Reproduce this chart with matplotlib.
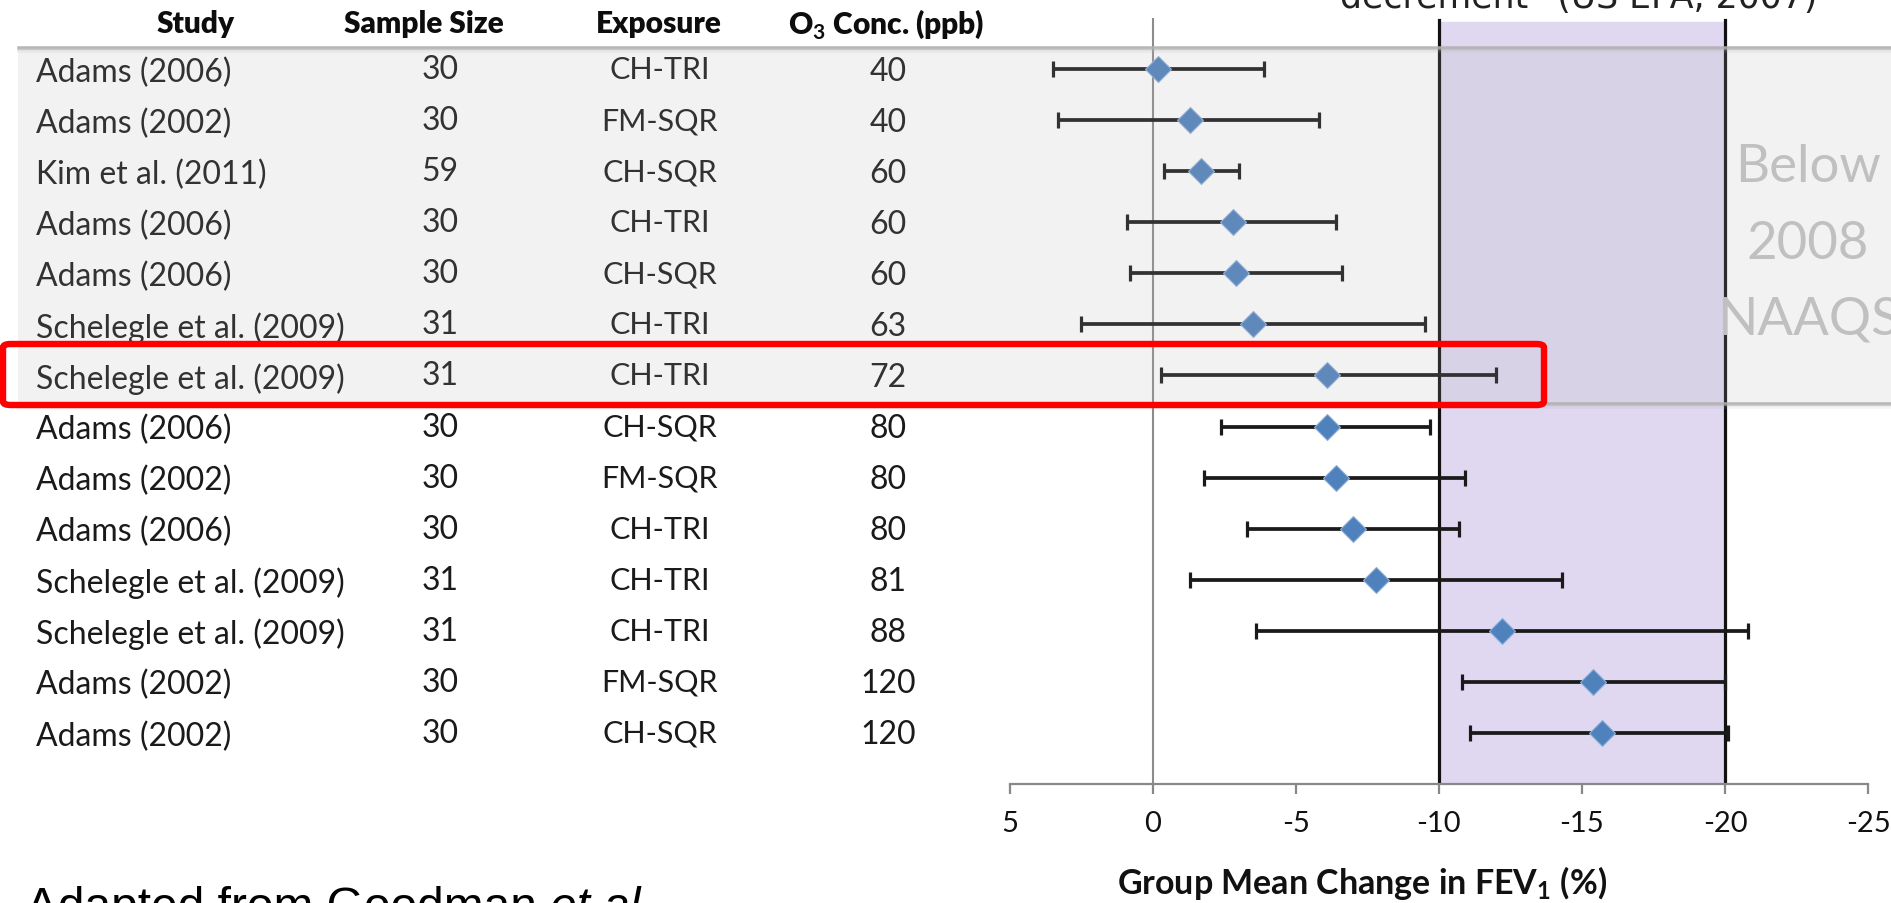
import numpy as np
import matplotlib
matplotlib.use("Agg")
import matplotlib.pyplot as plt
import matplotlib.transforms as mtransforms
from matplotlib.patches import Rectangle, FancyBboxPatch

# ---------------------------------------------------------------------------
# Data
# ---------------------------------------------------------------------------
studies = ["Adams (2006)", "Adams (2002)", "Kim et al. (2011)", "Adams (2006)",
           "Adams (2006)", "Schelegle et al. (2009)", "Schelegle et al. (2009)",
           "Adams (2006)", "Adams (2002)", "Adams (2006)", "Schelegle et al. (2009)",
           "Schelegle et al. (2009)", "Adams (2002)", "Adams (2002)"]
sample_size = [30, 30, 59, 30, 30, 31, 31, 30, 30, 30, 31, 31, 30, 30]
exposure = ["CH-TRI", "FM-SQR", "CH-SQR", "CH-TRI", "CH-SQR", "CH-TRI", "CH-TRI",
            "CH-SQR", "FM-SQR", "CH-TRI", "CH-TRI", "CH-TRI", "FM-SQR", "CH-SQR"]
o3_conc = [40, 40, 60, 60, 60, 63, 72, 80, 80, 80, 81, 88, 120, 120]

# group mean change in FEV1 (%) and the two ends of the bars
fev_mean = [-0.2, -1.3, -1.7, -2.8, -2.9, -3.5, -6.1, -6.1, -6.4, -7.0, -7.8, -12.2, -15.4, -15.7]
fev_high = [3.5, 3.3, -0.4, 0.9, 0.8, 2.5, -0.3, -2.4, -1.8, -3.3, -1.3, -3.6, -10.8, -11.1]
fev_low = [-3.9, -5.8, -3.0, -6.4, -6.6, -9.5, -12.0, -9.7, -10.9, -10.7, -14.3, -20.8, -20.0, -20.1]

x_ticks = [5, 0, -5, -10, -15, -20, -25]
band = (-10, -20)

# ---------------------------------------------------------------------------
# Layout helpers
# ---------------------------------------------------------------------------
W, H = 1891, 904
plt.rcParams["mathtext.fontset"] = "custom"
plt.rcParams["mathtext.rm"] = "Lato"
plt.rcParams["mathtext.bf"] = "Lato:bold"

def fx(px):
    return px / W

def fy(py):
    return 1 - py / H

fig = plt.figure(figsize=(W / 100, H / 100), dpi=100)
fig.patch.set_facecolor("white")

ax_l, ax_r, ax_t, ax_b = 1009.7, 1868, 19, 785
ax = fig.add_axes([fx(ax_l), fy(ax_b), fx(ax_r - ax_l), (ax_b - ax_t) / H])
ax.set_facecolor("none")

rows = np.arange(1, len(studies) + 1)
ax.set_xlim(5, -25)
ax.set_ylim(15, 0)

# reference band + lines
ax.axvspan(band[1], band[0], ymin=0, ymax=1 - 4 / (ax_b - ax_t), color="#E0D8F0", zorder=0)
ax.axvline(0, color="#8c8c8c", lw=1.5, zorder=1)
for b in band:
    ax.axvline(b, ymax=1 - 2 / (ax_b - ax_t), color="#111111", lw=2.3, zorder=2)

mean = np.array(fev_mean)
xerr = [mean - np.array(fev_low), np.array(fev_high) - mean]
ax.errorbar(mean, rows, xerr=xerr, fmt="none", ecolor="#1a1a1a", elinewidth=2.7,
            capsize=5.5, capthick=2.3, zorder=3)
ax.plot(mean, rows, "D", ms=13.5, mfc="#4F81BD", mec="#8fb0d8", mew=0.8, zorder=4)

for s in ["top", "left", "right"]:
    ax.spines[s].set_visible(False)
ax.spines["bottom"].set_color("#888888")
ax.spines["bottom"].set_linewidth(1.6)
ax.set_yticks([])
ax.set_xticks(x_ticks)
ax.set_xticklabels([str(t) for t in x_ticks], family="Lato", fontsize=21, color="#111111")
ax.tick_params(axis="x", direction="out", length=7.5, width=1.6, color="#888888", pad=11)

fig.text(fx(1362), fy(883), r"Group Mean Change in FEV$_{\mathbf{1}}$ (%)",
         ha="center", va="center", family="Lato", weight="bold", fontsize=24.5,
         color="#111111")

# ---------------------------------------------------------------------------
# Table on the left
# ---------------------------------------------------------------------------
tr = mtransforms.blended_transform_factory(fig.transFigure, ax.transData)
col_x = {"study": 36, "n": 440, "exp": 660, "conc": 888}
headers = [("Study", 196), ("Sample Size", 424), ("Exposure", 659),
           (r"O$_{\mathbf{3}}$ Conc. (ppb)", 886)]
for txt, x in headers:
    fig.text(fx(x), fy(24), txt, ha="center", va="center", family="Lato",
             weight="heavy", fontsize=21.5, color="#0d0d0d")

for i, r in enumerate(rows):
    kw = dict(va="center", family="Lato", color="#1a1a1a", transform=tr)
    ax.text(fx(col_x["study"]), r + 0.05, studies[i], ha="left", fontsize=23, **kw)
    ax.text(fx(col_x["n"]), r, str(sample_size[i]), ha="center", fontsize=23, **kw)
    ax.text(fx(col_x["exp"]), r, exposure[i], ha="center", fontsize=22, **kw)
    ax.text(fx(col_x["conc"]), r + 0.03, str(o3_conc[i]), ha="center", fontsize=23, **kw)

# ---------------------------------------------------------------------------
# Overlays: grey highlight box, red frame, annotations
# ---------------------------------------------------------------------------
box_top, box_bot, box_left = 48, 404, 18
fig.patches.append(Rectangle((fx(box_left), fy(box_bot)), 1.2, (box_bot - box_top) / H,
                             transform=fig.transFigure, facecolor=(0.7, 0.7, 0.7),
                             alpha=0.16, edgecolor="none", zorder=10))
for edge in (box_top, box_bot):
    for k, a in enumerate([0.9, 0.55, 0.3, 0.15]):
        fig.lines.append(plt.Line2D([fx(box_left), 1.0], [fy(edge + 1.5 * k)] * 2,
                                    transform=fig.transFigure, color="#b0b0b0",
                                    lw=1.8 if k == 0 else 1.2, alpha=a, zorder=11))

fig.patches.append(FancyBboxPatch((fx(3), fy(406)), fx(1544 - 3), (406 - 345) / H,
                                  boxstyle="round,pad=0,rounding_size=0.004",
                                  transform=fig.transFigure, facecolor="none",
                                  edgecolor="#ff0000", lw=4.6, zorder=12))

for txt, y in [("Below", 182), ("2008", 259), ("NAAQS", 335)]:
    fig.text(fx(1808), fy(y), txt, ha="center", va="baseline", family="Lato",
             fontsize=38, color="#c0c0c0", zorder=13)

fig.text(fx(1322), fy(8), "\u201cdecrement\u201d (US EPA, 2007)", ha="left", va="baseline",
         family="DejaVu Sans", fontsize=25, color="#222222")

# source note, cut by the bottom edge as in the original slide
note = fig.text(fx(26), fy(921), "Adapted from Goodman ", ha="left", va="baseline",
                family="Liberation Sans", fontsize=34.5, color="black")
fig.canvas.draw()
bb = note.get_window_extent()
fig.text(bb.x1 / W, fy(921), "et al.", ha="left", va="baseline", style="italic",
         family="Liberation Sans", fontsize=34.5, color="black")

fig.savefig("out.png", dpi=100)
